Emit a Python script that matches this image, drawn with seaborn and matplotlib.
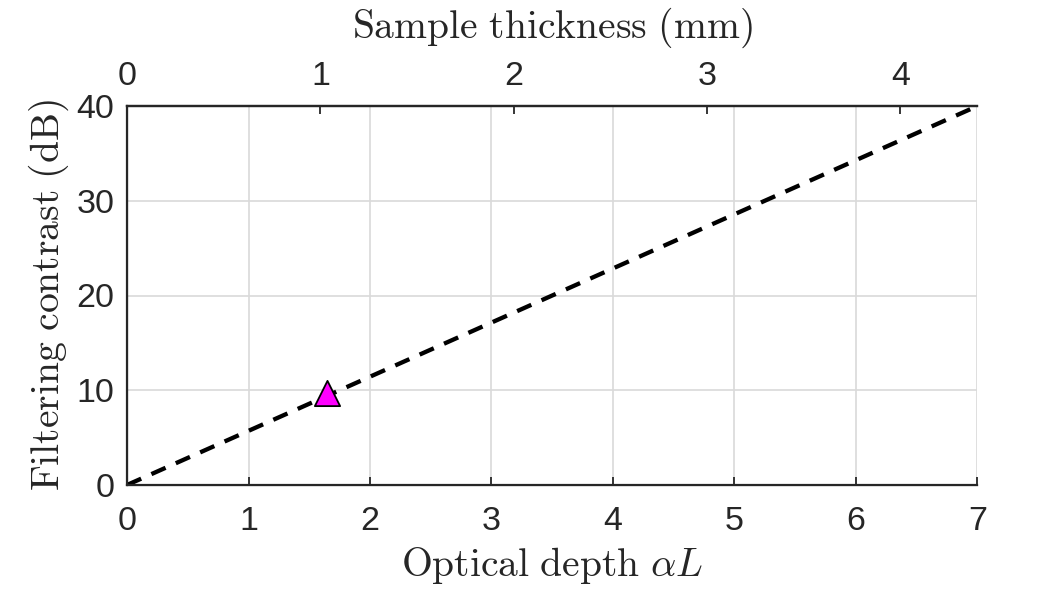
import numpy as np
import seaborn as sns
import matplotlib
matplotlib.use('Agg')
import matplotlib.pyplot as plt

# Datos
depth_line = [0, 7]          # profundidad optica alpha*L
contrast_line = [0, 40]      # contraste de filtrado (dB)
depth_point = [1.65]
contrast_point = [9.7]
mm_per_depth = 1 / 1.5915    # espesor de muestra (mm) por unidad de alpha*L

sns.set_style('white')
plt.rcParams['font.family'] = ['Liberation Sans', 'DejaVu Sans']
plt.rcParams['mathtext.fontset'] = 'cm'

fig = plt.figure(figsize=(10.63, 5.91), dpi=100)
ax = fig.add_axes([0.1195, 0.1794, 0.8, 0.6412])

sns.lineplot(x=depth_line, y=contrast_line, ax=ax, color='black',
             linestyle=(0, (3.6, 2.6)), linewidth=3.1)
sns.scatterplot(x=depth_point, y=contrast_point, ax=ax, marker='^', s=330,
                color='#ff00ff', edgecolor='black', linewidth=1.3, zorder=5)

ax.set_xlim(0, 7)
ax.set_ylim(0, 40)
ax.set_xticks(range(0, 8))
ax.set_yticks(range(0, 41, 10))
ax.grid(True, color='#d9d9d9', linewidth=1.2)
ax.set_axisbelow(True)

dark = '#262626'
for side in ['left', 'bottom', 'top']:
    ax.spines[side].set_color(dark)
    ax.spines[side].set_linewidth(1.6)
ax.spines['right'].set_visible(False)
ax.tick_params(direction='in', length=6, width=1.3, colors=dark,
               labelsize=24.5, pad=9)
ax.tick_params(axis='x', pad=15)

ax.set_xlabel(r'$\mathrm{Optical\ depth}\ \alpha L$', fontsize=28.5, color=dark,
              labelpad=6)
ax.set_ylabel(r'$\mathrm{Filtering\ contrast\ (dB)}$', fontsize=28.5, color=dark,
              labelpad=4)

ax2 = ax.twiny()
ax2.set_xlim(0, 7 * mm_per_depth)
ax2.set_xticks(range(0, 5))
ax2.spines['right'].set_visible(False)
ax2.spines['top'].set_color(dark)
ax2.spines['top'].set_linewidth(1.6)
ax2.tick_params(direction='in', length=6, width=1.3, colors=dark,
                labelsize=24.5, pad=10)
ax2.set_xlabel(r'$\mathrm{Sample\ thickness\ (mm)}$', fontsize=28.5, color=dark,
               labelpad=17)

fig.savefig('out.png', dpi=100)
